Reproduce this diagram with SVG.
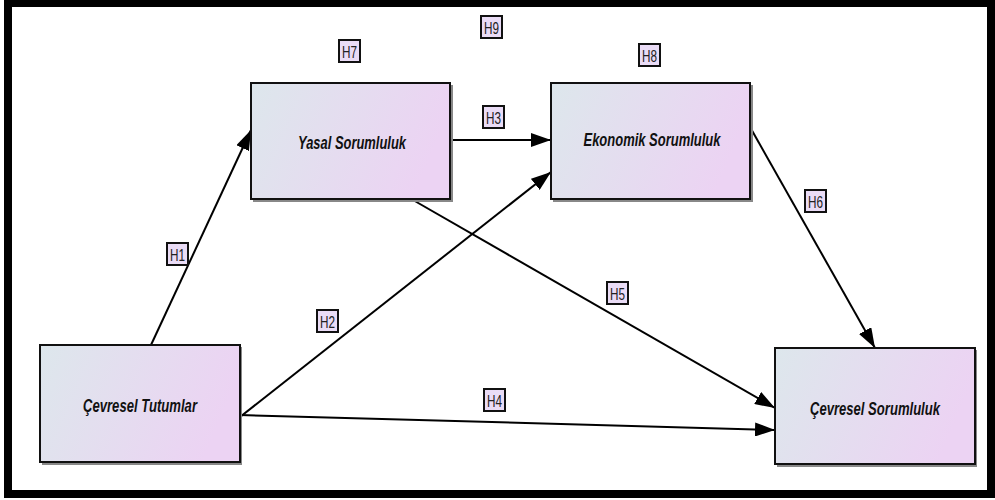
<svg xmlns="http://www.w3.org/2000/svg" width="995" height="500" viewBox="0 0 995 500">
<defs>
<linearGradient id="g" x1="0" y1="0" x2="1" y2="0.25">
<stop offset="0" stop-color="#dde7ec"/>
<stop offset="1" stop-color="#ecd3f3"/>
</linearGradient>
<marker id="a" viewBox="0 0 20 14" refX="20" refY="7" markerWidth="20" markerHeight="14" markerUnits="userSpaceOnUse" orient="auto">
<path d="M0,0 L20,7 L0,14 Z" fill="#000"/>
</marker>
</defs>
<style>
.node{fill:url(#g);stroke:#111;stroke-width:2}
.shadow{fill:#888}
.t{font-family:"Liberation Sans",sans-serif;font-style:italic;font-weight:bold;font-size:19px;fill:#111;text-anchor:middle}
.c line{stroke:#000;stroke-width:2;marker-end:url(#a)}
.lb rect{fill:#eadcf6;stroke:#111;stroke-width:2}
.lb text{font-family:"Liberation Sans",sans-serif;font-size:16px;fill:#222;text-anchor:middle}
</style>
<rect x="0" y="0" width="995" height="500" fill="#fff"/>
<rect x="8" y="3" width="983" height="491" fill="none" stroke="#000" stroke-width="8"/>
<g class="c" id="connectors">
<line x1="151" y1="345" x2="251" y2="130"/>
<line x1="450" y1="140" x2="551" y2="140"/>
<line x1="240" y1="417" x2="551" y2="172"/>
<line x1="413" y1="200" x2="775" y2="408"/>
<line x1="240" y1="415" x2="775" y2="430"/>
<line x1="750" y1="127" x2="875" y2="348"/>
</g>
<g id="n-yasal">
<rect class="shadow" x="253" y="85" width="200" height="117"/>
<rect class="node" x="251" y="83" width="199" height="116"/>
<text class="t" x="352" y="149" textLength="108" lengthAdjust="spacingAndGlyphs">Yasal Sorumluluk</text>
</g>
<g id="n-ekonomik">
<rect class="shadow" x="553" y="85" width="200" height="117"/>
<rect class="node" x="551" y="83" width="199" height="116"/>
<text class="t" x="652" y="146" textLength="137" lengthAdjust="spacingAndGlyphs">Ekonomik Sorumluluk</text>
</g>
<g id="n-tutumlar">
<rect class="shadow" x="42" y="347" width="200" height="118"/>
<rect class="node" x="40" y="345" width="200" height="117"/>
<text class="t" x="140" y="412" textLength="114" lengthAdjust="spacingAndGlyphs">Çevresel Tutumlar</text>
</g>
<g id="n-sorumluluk">
<rect class="shadow" x="777" y="350" width="200" height="117"/>
<rect class="node" x="775" y="348" width="200" height="116"/>
<text class="t" x="875" y="415" textLength="130" lengthAdjust="spacingAndGlyphs">Çevresel Sorumluluk</text>
</g>
<g class="lb" id="labels">
<g id="l-h7"><rect x="339" y="40" width="21" height="22"/><text x="349.5" y="58" textLength="15" lengthAdjust="spacingAndGlyphs">H7</text></g>
<g id="l-h9"><rect x="481" y="16" width="21" height="22"/><text x="491.5" y="34" textLength="15" lengthAdjust="spacingAndGlyphs">H9</text></g>
<g id="l-h8"><rect x="639" y="44" width="21" height="22"/><text x="649.5" y="62" textLength="15" lengthAdjust="spacingAndGlyphs">H8</text></g>
<g id="l-h3"><rect x="483" y="106" width="21" height="22"/><text x="493.5" y="124" textLength="15" lengthAdjust="spacingAndGlyphs">H3</text></g>
<g id="l-h1"><rect x="167" y="243" width="21" height="22"/><text x="177.5" y="261" textLength="15" lengthAdjust="spacingAndGlyphs">H1</text></g>
<g id="l-h2"><rect x="317" y="310" width="21" height="22"/><text x="327.5" y="328" textLength="15" lengthAdjust="spacingAndGlyphs">H2</text></g>
<g id="l-h5"><rect x="607" y="282" width="21" height="22"/><text x="617.5" y="300" textLength="15" lengthAdjust="spacingAndGlyphs">H5</text></g>
<g id="l-h4"><rect x="484" y="389" width="21" height="22"/><text x="494.5" y="407" textLength="15" lengthAdjust="spacingAndGlyphs">H4</text></g>
<g id="l-h6"><rect x="805" y="190" width="21" height="22"/><text x="815.5" y="208" textLength="15" lengthAdjust="spacingAndGlyphs">H6</text></g>
</g>
</svg>
